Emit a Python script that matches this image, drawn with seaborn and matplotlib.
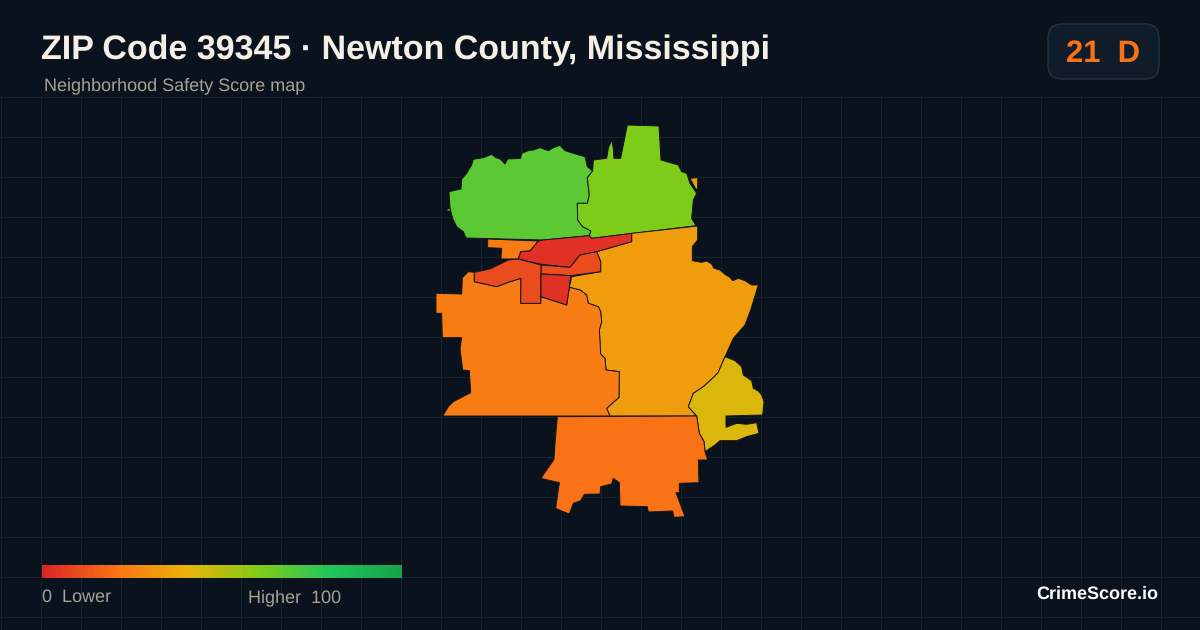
import numpy as np
import seaborn as sns
import matplotlib.pyplot as plt
from matplotlib.patches import FancyBboxPatch

# map outlines, in map units
nw_green = [(57,230),(75,226),(93,222),(95,193),(110,175),(125,150),(130,133),(160,128),(185,118),(198,128),(212,133),(225,147),(233,132),
            (272,130),(275,115),(295,107),(310,105),(330,98),(355,107),(370,98),(390,91),(405,107),(440,118),(465,125),(472,155),
            (488,168),(472,188),(478,240),(472,265),(442,265),(443,315),(458,335),(483,348),(478,362),(340,375),
            (108,369),(100,350),(80,335),(68,310),(60,280)]
ne_lime = [(592,30),(687,33),(693,135),(745,150),(755,170),(770,175),(780,205),(800,235),(790,255),(785,310),
           (798,332),(610,355),(485,370),(478,362),(483,348),(458,335),(443,315),(442,265),(472,265),(478,240),
           (472,188),(488,168),(490,135),(530,130),(535,100),(545,75),(550,100),(552,130),(572,130)]
ne_sliver = [(780,190),(803,188),(803,222),(797,222)]
nw_sliver = [(47,287),(60,278),(60,289)]
east_amber = [(803,333),(803,375),(787,395),(787,437),(815,442),(830,438),(845,447),(852,460),(870,465),(885,478),(900,487),
              (908,497),(925,490),(945,497),(965,510),(985,510),(962,585),(945,630),(910,670),(885,725),(865,772),(855,783),(820,815),
              (790,835),(775,875),(800,903),(540,903),(530,880),(567,847),(568,770),(528,765),(525,730),(512,717),
              (508,645),(515,620),(512,590),(505,575),(475,565),(470,540),(450,525),(418,517),(425,485),(512,470),
              (512,440),(500,410),(605,380),(605,355)]
west_orange = [(18,535),(95,537),(97,488),(115,470),(133,472),(133,500),(200,515),(240,500),(273,490),(272,565),
               (332,565),(333,545),(395,565),(410,570),(418,517),(450,525),(470,540),(475,565),(505,575),(512,590),
               (515,620),(508,645),(512,717),(525,730),(528,765),(568,770),(567,847),(530,880),(540,903),(38,903),
               (55,875),(70,860),(122,833),(118,767),(98,765),(90,700),(95,668),(37,668),(35,595),(18,595)]
top_orange = [(173,372),(325,378),(300,408),(272,410),(265,432),(213,432),(215,400),(173,398)]
main_red = [(340,375),(478,362),(485,370),(605,355),(605,380),(500,410),(450,420),(420,457),(335,448),(265,432),
            (272,410),(300,408),(325,378)]
mid_red = [(333,450),(420,457),(450,420),(500,410),(512,440),(512,470),(422,482),(333,477)]
west_ell = [(133,472),(180,462),(235,435),(265,432),(333,450),(332,565),(272,565),(273,490),(240,500),(200,515),(133,500)]
low_red = [(333,477),(422,482),(418,517),(410,570),(395,565),(333,545)]
se_yellow = [(885,725),(915,737),(935,755),(940,780),(965,797),(970,820),(985,828),(995,840),(1002,860),(998,900),(888,903),
             (888,937),(920,925),(950,928),(980,923),(987,955),(950,965),(920,977),(870,977),(855,990),(825,1010),(822,980),
             (808,955),(800,903),(775,875),(790,835),(820,815),(855,783),(865,772)]
south_orange = [(382,905),(800,903),(808,955),(822,980),(825,1010),(833,1035),(805,1035),(807,1103),(748,1105),
                (748,1133),(738,1133),(765,1205),(732,1207),(728,1188),(655,1191),(652,1175),(570,1173),(568,1103),
                (550,1090),(545,1107),(512,1115),(510,1137),(463,1138),(452,1157),(430,1165),(418,1197),(400,1190),
                (377,1180),(388,1103),(333,1090),(372,1033),(375,985)]

tracts = [nw_green, ne_lime, ne_sliver, nw_sliver, east_amber, west_orange, top_orange,
          main_red, mid_red, west_ell, low_red, se_yellow, south_orange]
scores = [68, 61, 34, 34, 33, 23, 23, 3, 10, 10, 3, 43, 20]

legend_stops = ['#dc2626', '#f97316', '#eab308', '#84cc16', '#22c55e', '#16a34a']
grade_text = '21  D'

sns.set_theme(style='dark')
plt.rcParams['font.family'] = ['Liberation Sans', 'DejaVu Sans']
plt.rcParams['text.hinting'] = 'none'
plt.rcParams['text.hinting_factor'] = 1
score_cmap = sns.blend_palette(legend_stops, n_colors=256, as_cmap=True)

bg = '#0a121d'
fig = plt.figure(figsize=(12, 6.3), dpi=100, facecolor=bg)

# page layer, one unit per pixel
page = fig.add_axes([0, 0, 1, 1], facecolor=bg)
page.set_xlim(0, 1200)
page.set_ylim(630, 0)
page.axis('off')
for gx in np.arange(0.5, 1200, 40):
    page.plot([gx, gx], [96, 630], color='#14232e', lw=0.8, zorder=1)
for gy in np.arange(96.5, 630, 40):
    page.plot([0, 1200], [gy, gy], color='#14232e', lw=0.8, zorder=1)

page.text(41, 59, 'ZIP Code 39345 · Newton County, Mississippi', color='#f5efe6', fontsize=24.4,
          fontweight='bold', va='baseline', ha='left')
page.text(44, 90.7, 'Neighborhood Safety Score map', color='#a8a296', fontsize=12.9, va='baseline', ha='left')

page.add_patch(FancyBboxPatch((1062, 38), 83, 27, boxstyle='round,pad=14,rounding_size=14',
                              fc='#111c2a', ec='#26323f', lw=1, zorder=2))
page.text(1103, 62, grade_text, color='#f97316', fontsize=22.5, fontweight='bold', va='baseline', ha='center', zorder=3)

page.text(42, 602.3, '0  Lower', color='#a8a296', fontsize=13, va='baseline', ha='left')
page.text(341, 602.3, 'Higher  100', color='#a8a296', fontsize=13, va='baseline', ha='right')
page.text(1158, 599, 'CrimeScore.io', color='#ffffff', fontsize=13, fontweight='bold', va='baseline', ha='right')

# map layer shares the page extent, map units are 3 per pixel
geo = fig.add_axes([0, 0, 1, 1], facecolor='none')
geo.set_xlim(-1290, 2310)
geo.set_ylim(1545, -345)
geo.axis('off')
for shape, score in zip(tracts, scores):
    xs, ys = zip(*shape)
    geo.fill(xs, ys, facecolor=score_cmap(score / 100), edgecolor='#14161c', lw=0.7, joinstyle='round')

# legend bar
bar = fig.add_axes([42 / 1200, 1 - 578 / 630, 360 / 1200, 13 / 630])
sns.heatmap(np.arange(0, 101).reshape(1, -1), ax=bar, cmap=score_cmap, vmin=0, vmax=100, cbar=False,
            xticklabels=False, yticklabels=False)

fig.savefig('out.png', dpi=100, facecolor=bg)
